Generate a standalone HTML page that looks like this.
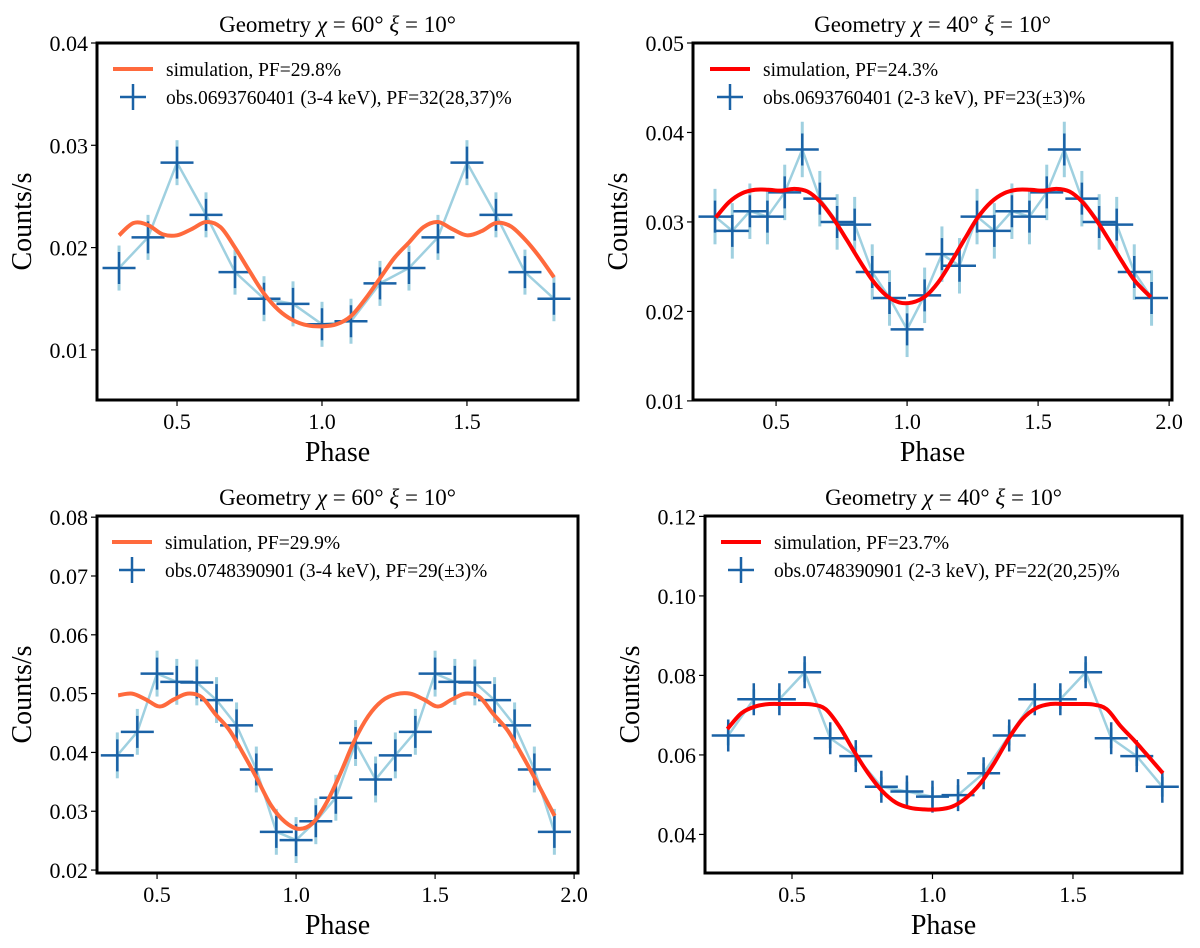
<!DOCTYPE html>
<html><head><meta charset="utf-8"><style>
html,body{margin:0;padding:0;background:#fff;}
svg{display:block;font-family:"Liberation Serif",serif;}
</style></head><body>
<svg id="fig" width="1200" height="948" viewBox="0 0 1200 948"></svg>
<script>
// ---- Panel TL data ----
const tlObsX=[0.3,0.4,0.5,0.6,0.7,0.8,0.9,1.0,1.1,1.2,1.3,1.4,1.5,1.6,1.7,1.8];
const tlObsY=[0.0180,0.0210,0.0283,0.0232,0.0176,0.0150,0.0145,0.0125,0.0128,0.0165,0.0180,0.0210,0.0283,0.0232,0.0176,0.0150];
const tlSimX=[0.3,0.35,0.4,0.45,0.5,0.55,0.6,0.65,0.7,0.75,0.8,0.85,0.9,0.95,1.0,1.05,1.1,1.15,1.2,1.25,1.3,1.35,1.4,1.45,1.5,1.55,1.6,1.65,1.7,1.75,1.8];
const tlSimY=[0.0212,0.0224,0.0222,0.0213,0.0212,0.0218,0.0225,0.0220,0.0200,0.0177,0.0155,0.0139,0.0129,0.0124,0.0123,0.0125,0.0133,0.0150,0.0170,0.0190,0.0205,0.0220,0.0225,0.0218,0.0212,0.0216,0.0224,0.0221,0.0208,0.0191,0.0171];
const tlYTicks=[0.01,0.02,0.03,0.04];
const tlXTicks=[0.5,1.0,1.5];
// ---- Panel TR data ----
const trObsX=[0.267,0.333,0.4,0.467,0.533,0.6,0.667,0.733,0.8,0.867,0.933,1.0,1.067,1.133,1.2,1.267,1.333,1.4,1.467,1.533,1.6,1.667,1.733,1.8,1.867,1.933];
const trObsY=[0.0306,0.0290,0.0312,0.0306,0.0333,0.0381,0.0326,0.0300,0.0297,0.0244,0.0215,0.0180,0.0218,0.0264,0.0251,0.0306,0.0290,0.0312,0.0306,0.0333,0.0381,0.0326,0.0300,0.0297,0.0244,0.0215];
const trSimX=[0.27,0.32,0.37,0.42,0.47,0.52,0.57,0.62,0.67,0.72,0.77,0.82,0.87,0.92,0.97,1.02,1.07,1.12,1.17,1.22,1.27,1.32,1.37,1.42,1.47,1.52,1.57,1.62,1.67,1.72,1.77,1.82,1.87,1.93];
const trSimY=[0.0305,0.0322,0.0332,0.0336,0.0336,0.0335,0.0337,0.0334,0.0322,0.0303,0.0280,0.0256,0.0234,0.0218,0.0210,0.0210,0.0217,0.0233,0.0256,0.0281,0.0305,0.0322,0.0332,0.0336,0.0336,0.0335,0.0337,0.0334,0.0322,0.0303,0.0280,0.0256,0.0234,0.0216];
const trYTicks=[0.01,0.02,0.03,0.04,0.05];
const trXTicks=[0.5,1.0,1.5,2.0];
// ---- Panel BL data ----
const blObsX=[0.357,0.429,0.5,0.571,0.643,0.714,0.786,0.857,0.929,1.0,1.071,1.143,1.214,1.286,1.357,1.429,1.5,1.571,1.643,1.714,1.786,1.857,1.929];
const blObsY=[0.0395,0.0435,0.0534,0.0520,0.0519,0.0489,0.0446,0.0371,0.0265,0.0251,0.0283,0.0323,0.0416,0.0354,0.0395,0.0435,0.0534,0.0520,0.0519,0.0489,0.0446,0.0371,0.0265];
const blSimX=[0.36,0.41,0.46,0.51,0.56,0.61,0.66,0.71,0.76,0.81,0.86,0.91,0.96,1.01,1.06,1.11,1.16,1.21,1.26,1.31,1.36,1.41,1.46,1.51,1.56,1.61,1.66,1.71,1.76,1.81,1.86,1.91,1.93];
const blSimY=[0.0497,0.0500,0.0490,0.0478,0.0490,0.0500,0.0494,0.0465,0.0438,0.0398,0.0355,0.0310,0.0282,0.0270,0.0280,0.0315,0.0365,0.0420,0.0462,0.0488,0.0499,0.0500,0.0490,0.0478,0.0490,0.0500,0.0494,0.0465,0.0438,0.0398,0.0355,0.0310,0.0292];
const blYTicks=[0.02,0.03,0.04,0.05,0.06,0.07,0.08];
const blXTicks=[0.5,1.0,1.5,2.0];
// ---- Panel BR data ----
const brObsX=[0.273,0.364,0.455,0.545,0.636,0.727,0.818,0.909,1.0,1.091,1.182,1.273,1.364,1.455,1.545,1.636,1.727,1.818];
const brObsY=[0.0649,0.0740,0.0740,0.0808,0.0642,0.0597,0.0520,0.0508,0.0495,0.0499,0.0554,0.0649,0.0740,0.0740,0.0808,0.0642,0.0597,0.0520];
const brSimX=[0.27,0.32,0.37,0.42,0.47,0.52,0.57,0.62,0.67,0.72,0.77,0.82,0.87,0.92,0.97,1.02,1.07,1.12,1.17,1.22,1.27,1.32,1.37,1.42,1.47,1.52,1.57,1.62,1.67,1.72,1.77,1.82];
const brSimY=[0.0665,0.0705,0.0722,0.0728,0.0728,0.0728,0.0727,0.0715,0.0670,0.0610,0.0555,0.0510,0.0480,0.0467,0.0463,0.0463,0.0470,0.0492,0.0528,0.0580,0.0640,0.0690,0.0718,0.0728,0.0728,0.0728,0.0727,0.0715,0.0672,0.0635,0.0595,0.0554];
const brYTicks=[0.04,0.06,0.08,0.10,0.12];
const brXTicks=[0.5,1.0,1.5];

const NS="http://www.w3.org/2000/svg";
const svg=document.getElementById('fig');
function mk(tag,attrs,parent){const e=document.createElementNS(NS,tag);for(const k in attrs)e.setAttribute(k,attrs[k]);(parent||svg).appendChild(e);return e;}
function smoothPath(pts){
  let d='M'+pts[0][0].toFixed(2)+','+pts[0][1].toFixed(2);
  for(let i=0;i<pts.length-1;i++){
    const p0=pts[Math.max(0,i-1)],p1=pts[i],p2=pts[i+1],p3=pts[Math.min(pts.length-1,i+2)];
    const c1=[p1[0]+(p2[0]-p0[0])/6,p1[1]+(p2[1]-p0[1])/6];
    const c2=[p2[0]-(p3[0]-p1[0])/6,p2[1]-(p3[1]-p1[1])/6];
    d+=' C'+c1[0].toFixed(2)+','+c1[1].toFixed(2)+' '+c2[0].toFixed(2)+','+c2[1].toFixed(2)+' '+p2[0].toFixed(2)+','+p2[1].toFixed(2);
  }
  return d;
}
function panel(o){
  const g=mk('g',{});
  
  
  const sx=v=>o.L+(v-o.xmin)/(o.xmax-o.xmin)*(o.R-o.L);
  const sy=v=>o.B-(v-o.ymin)/(o.ymax-o.ymin)*(o.B-o.T);
  const clip='clip-'+o.name;
  const cp=mk('clipPath',{id:clip},g);mk('rect',{x:o.L,y:o.T,width:o.R-o.L,height:o.B-o.T},cp);
  const t=mk('text',{x:(o.L+o.R)/2,y:o.T-11,'text-anchor':'middle','font-size':23},g);
  
  t.innerHTML='Geometry <tspan font-style="italic">χ</tspan> = '+o.chi+'° <tspan font-style="italic">ξ</tspan> = 10°';
  o.yt.forEach(v=>{const y=sy(v);
    mk('line',{x1:o.L-6,x2:o.L,y1:y,y2:y,stroke:'#000','stroke-width':1.2},g);
    const tx=mk('text',{x:o.L-9,y:y+8,'text-anchor':'end','font-size':22},g);
    
    tx.textContent=v.toFixed(2);});
  o.xt.forEach(v=>{const x=sx(v);
    mk('line',{x1:x,x2:x,y1:o.B,y2:o.B+6,stroke:'#000','stroke-width':1.2},g);
    const tx=mk('text',{x:x,y:o.B+29,'text-anchor':'middle','font-size':22},g);
    
    tx.textContent=v.toFixed(1);});
  const xl=mk('text',{x:(o.L+o.R)/2,y:o.B+61,'text-anchor':'middle','font-size':28},g);
  xl.textContent='Phase';
  const yl=mk('text',{x:0,y:0,'text-anchor':'middle','font-size':28,transform:'translate('+(o.L-66)+','+((o.T+o.B)/2)+') rotate(-90)'},g);
  yl.textContent='Counts/s';
  const plot=mk('g',{'clip-path':'url(#'+clip+')'},g);
  const lp=o.ox.map((x,i)=>sx(x).toFixed(2)+','+sy(o.oy[i]).toFixed(2)).join(' ');
  const cl=mk('polyline',{points:lp,fill:'none',stroke:'#9fd0e0','stroke-width':2.5},plot);
  
  o.ox.forEach((x,i)=>{const eb=mk('line',{x1:sx(x),x2:sx(x),y1:sy(o.oy[i]-o.err),y2:sy(o.oy[i]+o.err),stroke:'#9fd0e0','stroke-width':3},plot);
    });
  o.ox.forEach((x,i)=>{const X=sx(x),Y=sy(o.oy[i]);
    const m=mk('path',{d:'M'+(X-16.5)+','+Y+' H'+(X+16.5)+' M'+X+','+(Y-16)+' V'+(Y+16),stroke:'#1a62a6','stroke-width':2.5,fill:'none'},plot);
    });
  const sp=o.sx.map((x,i)=>[sx(x),sy(o.sy[i])]);
  const sl=mk('path',{d:smoothPath(sp),fill:'none',stroke:o.col,'stroke-width':4,'stroke-linecap':'butt'},plot);
  
  const fr=mk('rect',{x:o.L,y:o.T,width:o.R-o.L,height:o.B-o.T,fill:'none',stroke:'#000','stroke-width':3},g);
  
  const lg=mk('g',{},g);
  const lx=o.L+o.legDx;
  const l1=mk('line',{x1:lx,x2:lx+40,y1:o.T+26,y2:o.T+26,stroke:o.col,'stroke-width':4},lg);
  
  const t1=mk('text',{x:lx+53,y:o.T+33,'font-size':19.5},lg);t1.textContent=o.leg1;
  
  const cx=lx+20,cy=o.T+54;
  const l2=mk('path',{d:'M'+(cx-13)+','+cy+' H'+(cx+13)+' M'+cx+','+(cy-13)+' V'+(cy+13),stroke:'#1a62a6','stroke-width':2.5},lg);
  
  const t2=mk('text',{x:lx+53,y:cy+7,'font-size':19.5},lg);t2.textContent=o.leg2;
  
}
panel({name:'panel-top-left',L:97,R:578,T:43,B:400,xmin:0.224,xmax:1.883,ymin:0.0051,ymax:0.04,xt:tlXTicks,yt:tlYTicks,
  ox:tlObsX,oy:tlObsY,err:0.0022,sx:tlSimX,sy:tlSimY,col:'#ff6a3d',chi:60,legDx:16,
  leg1:'simulation, PF=29.8%',leg2:'obs.0693760401 (3-4 keV), PF=32(28,37)%'});
panel({name:'panel-top-right',L:693,R:1172,T:43,B:400,xmin:0.183,xmax:2.011,ymin:0.0101,ymax:0.05,xt:trXTicks,yt:trYTicks,
  ox:trObsX,oy:trObsY,err:0.0031,sx:trSimX,sy:trSimY,col:'#ff0000',chi:40,legDx:17,
  leg1:'simulation, PF=24.3%',leg2:'obs.0693760401 (2-3 keV), PF=23(±3)%'});
panel({name:'panel-bottom-left',L:97,R:578,T:516,B:873,xmin:0.284,xmax:2.014,ymin:0.0195,ymax:0.0802,xt:blXTicks,yt:blYTicks,
  ox:blObsX,oy:blObsY,err:0.0039,sx:blSimX,sy:blSimY,col:'#ff6a3d',chi:60,legDx:15,
  leg1:'simulation, PF=29.9%',leg2:'obs.0748390901 (3-4 keV), PF=29(±3)%'});
panel({name:'panel-bottom-right',L:705,R:1182,T:516,B:873,xmin:0.1904,xmax:1.888,ymin:0.0303,ymax:0.1201,xt:brXTicks,yt:brYTicks,
  ox:brObsX,oy:brObsY,err:0.0025,sx:brSimX,sy:brSimY,col:'#ff0000',chi:40,legDx:16,
  leg1:'simulation, PF=23.7%',leg2:'obs.0748390901 (2-3 keV), PF=22(20,25)%'});
</script>
</body></html>
